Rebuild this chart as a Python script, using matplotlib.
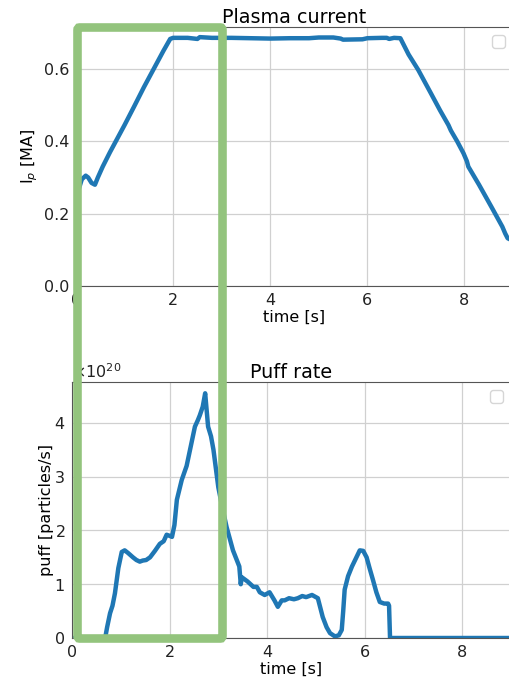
import matplotlib
import matplotlib.pyplot as plt
from matplotlib.patches import FancyBboxPatch
from matplotlib.ticker import ScalarFormatter

matplotlib.use('agg')

# plasma current trace, MA
ip_time = [0.0, 0.05, 0.12, 0.2, 0.25, 0.32, 0.39, 0.45, 0.55, 0.7, 0.84, 1.0, 1.2,
           1.4, 1.6, 1.8, 1.94, 2.0, 2.3, 2.5, 2.55, 2.8, 3.2, 3.6, 4.0, 4.4, 4.8,
           5.0, 5.3, 5.45, 5.5, 5.9, 6.0, 6.3, 6.4, 6.45, 6.55, 6.68, 6.85, 7.05,
           7.3, 7.5, 7.67, 7.72, 7.75, 7.85, 7.98, 8.05, 8.08, 8.3, 8.55, 8.78,
           8.84, 8.89, 9.0]
ip_value = [0.24, 0.265, 0.295, 0.305, 0.3, 0.285, 0.28, 0.3, 0.33, 0.37, 0.405,
            0.445, 0.497, 0.55, 0.6, 0.65, 0.683, 0.686, 0.686, 0.683, 0.688,
            0.686, 0.686, 0.685, 0.684, 0.685, 0.685, 0.687, 0.687, 0.684, 0.681,
            0.682, 0.685, 0.686, 0.686, 0.683, 0.686, 0.685, 0.64, 0.597, 0.535,
            0.485, 0.445, 0.43, 0.423, 0.4, 0.367, 0.345, 0.33, 0.28, 0.22, 0.164,
            0.145, 0.132, 0.125]

# gas puff rate, 1e20 particles/s
puff_time = [0.0, 0.68, 0.72, 0.78, 0.83, 0.88, 0.95, 1.02, 1.08, 1.15, 1.25,
             1.32, 1.39, 1.45, 1.52, 1.6, 1.7, 1.8, 1.88, 1.94, 2.0, 2.05, 2.1,
             2.15, 2.25, 2.35, 2.42, 2.52, 2.58, 2.62, 2.68, 2.73, 2.79, 2.85,
             2.9, 3.0, 3.1, 3.17, 3.3, 3.43, 3.46, 3.48, 3.6, 3.72, 3.79, 3.85,
             3.95, 4.05, 4.15, 4.22, 4.3, 4.36, 4.45, 4.55, 4.63, 4.72, 4.8,
             4.92, 5.04, 5.14, 5.22, 5.29, 5.39, 5.47, 5.53, 5.56, 5.59, 5.66,
             5.74, 5.82, 5.9, 5.97, 6.04, 6.1, 6.17, 6.24, 6.31, 6.4, 6.48, 6.5,
             6.52, 7.0, 8.0, 9.0]
puff_value = [0.0, 0.0, 0.2, 0.46, 0.6, 0.83, 1.3, 1.6, 1.63, 1.58, 1.5, 1.45,
              1.42, 1.44, 1.45, 1.5, 1.62, 1.75, 1.8, 1.92, 1.9, 1.88, 2.1, 2.57,
              2.94, 3.2, 3.5, 3.93, 4.05, 4.14, 4.3, 4.55, 3.93, 3.75, 3.5, 2.8,
              2.35, 2.06, 1.63, 1.33, 1.0, 1.13, 1.05, 0.95, 0.95, 0.85, 0.8, 0.85,
              0.7, 0.58, 0.7, 0.7, 0.74, 0.72, 0.74, 0.78, 0.76, 0.8, 0.74, 0.39,
              0.2, 0.09, 0.03, 0.05, 0.15, 0.5, 0.9, 1.15, 1.33, 1.48, 1.63, 1.62,
              1.5, 1.3, 1.08, 0.85, 0.67, 0.64, 0.64, 0.6, 0.0, 0.0, 0.0, 0.0]

plt.rcParams['font.size'] = 11.5
plt.rcParams['font.family'] = ['DejaVu Sans']

W, H = 510, 682
fig = plt.figure(figsize=(W / 100, H / 100), dpi=100)


def px_box(left, right, top, bottom):
    return [left / W, 1 - bottom / H, (right - left) / W, (bottom - top) / H]


ax1 = fig.add_axes(px_box(76, 513, 27, 286))
ax2 = fig.add_axes(px_box(72, 511, 382, 638))

ax1.plot(ip_time, ip_value, color='#1f77b4', lw=3.2)
ax1.set_xlim(0, 9)
ax1.set_ylim(0, 0.716)
ax1.set_yticks([0.0, 0.2, 0.4, 0.6])
ax1.set_title('Plasma current', pad=3)
ax1.set_xlabel('time [s]', labelpad=1)
ax1.set_ylabel('I$_p$ [MA]', labelpad=3)

ax2.plot(puff_time, [v * 1e20 for v in puff_value], color='#1f77b4', lw=3.2)
ax2.set_xlim(0, 9)
ax2.set_ylim(0, 4.76e20)
fmt = ScalarFormatter(useMathText=True)
ax2.yaxis.set_major_formatter(fmt)
ax2.set_title('Puff rate', pad=3)
ax2.set_xlabel('time [s]', labelpad=1)
ax2.set_ylabel('puff [particles/s]', labelpad=0)

for ax in (ax1, ax2):
    ax.grid(True, color='#d0d0d0', lw=0.9)
    ax.set_axisbelow(True)
    ax.tick_params(length=0, pad=5, colors='#222222')
    for s in ax.spines.values():
        s.set_color('#555555')
    ax.set_xticks([0, 2, 4, 6, 8])
    ax.legend(loc='upper right')

# highlight box around the ramp-up phase
box = FancyBboxPatch((77.5 / W, 1 - 638.5 / H), 145 / W, 611 / H,
                     boxstyle='round,pad=0,rounding_size=0.004',
                     transform=fig.transFigure, fill=False,
                     edgecolor='#93c47d', lw=6.2, zorder=10)
fig.add_artist(box)

fig.savefig('out.png', dpi=100)
